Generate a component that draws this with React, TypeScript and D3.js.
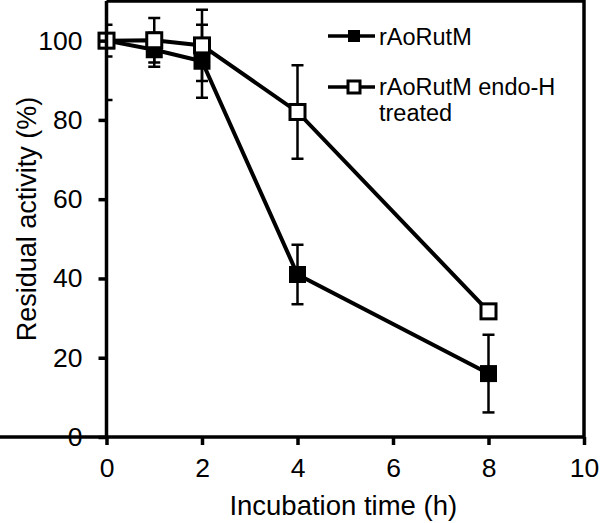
import React, { useEffect, useRef } from "react";
import * as d3 from "d3";

// incubation times (h)
const times = [0, 1, 2, 4, 8];
// rAoRutM (filled squares)
const nativeMean = [100, 97.7, 94.8, 41, 16];
const nativeErr = [4, 4.3, 9.2, 7.5, 9.8];
// rAoRutM endo-H treated (open squares)
const endoMean = [100, 100.1, 98.8, 82, 31.7];
const endoErr = [15, 5.6, 9, 11.8, 1];

const xTicks = [0, 2, 4, 6, 8, 10];
const yTicks = [0, 20, 40, 60, 80, 100];
const legendLabels = ["rAoRutM", "rAoRutM endo-H", "treated"];

export default function App() {
  const ref = useRef<SVGSVGElement>(null);

  useEffect(() => {
    const width = 600, height = 523;
    const margin = { top: 1, right: 16, bottom: 86, left: 106.5 };
    const font = "'Liberation Sans', Arial, sans-serif";

    const svg = d3.select(ref.current);
    svg.selectAll("*").remove();
    svg.attr("width", width).attr("height", height);

    const x = d3.scaleLinear().domain([0, 10]).range([margin.left, width - margin.right]);
    const y = d3.scaleLinear().domain([0, 110]).range([height - margin.bottom, margin.top]);

    svg.append("defs").append("clipPath").attr("id", "plotclip")
      .append("rect")
      .attr("x", x(0)).attr("y", y(110))
      .attr("width", x(10) - x(0)).attr("height", y(0) - y(110));

    const series = [
      { mean: nativeMean, err: nativeErr, fill: "#000", size: 17 },
      { mean: endoMean, err: endoErr, fill: "#fff", size: 15 },
    ];

    const line = d3.line<number>().x((_, i) => x(times[i])).y(d => y(d));

    // connecting lines
    series.forEach(s => {
      svg.append("path")
        .attr("d", line(s.mean))
        .attr("fill", "none")
        .attr("stroke", "#000")
        .attr("stroke-width", 4);
    });

    // error bars
    const eb = svg.append("g").attr("clip-path", "url(#plotclip)");
    series.forEach(s => {
      times.forEach((t, i) => {
        const cx = x(t);
        const lo = y(s.mean[i] - s.err[i]);
        const hi = y(s.mean[i] + s.err[i]);
        eb.append("line").attr("x1", cx).attr("x2", cx).attr("y1", lo).attr("y2", hi)
          .attr("stroke", "#000").attr("stroke-width", 2.5);
        [lo, hi].forEach(yy => {
          eb.append("line").attr("x1", cx - 6).attr("x2", cx + 6).attr("y1", yy).attr("y2", yy)
            .attr("stroke", "#000").attr("stroke-width", 2.5);
        });
      });
    });

    // markers
    series.forEach(s => {
      svg.append("g").selectAll("rect")
        .data(s.mean)
        .enter()
        .append("rect")
        .attr("x", (_, i) => x(times[i]) - s.size / 2)
        .attr("y", d => y(d) - s.size / 2)
        .attr("width", s.size)
        .attr("height", s.size)
        .attr("fill", s.fill)
        .attr("stroke", "#000")
        .attr("stroke-width", s.fill === "#fff" ? 3 : 0);
    });

    // frame (top + right)
    svg.append("path")
      .attr("d", `M${x(0)},${y(110)}H${x(10)}V${y(0)}`)
      .attr("fill", "none").attr("stroke", "#000").attr("stroke-width", 3.5);

    // axes
    const xAxis = svg.append("g")
      .attr("transform", `translate(0,${y(0)})`)
      .call(d3.axisBottom(x).tickValues(xTicks).tickSize(8).tickPadding(13).tickSizeOuter(0));
    const yAxis = svg.append("g")
      .attr("transform", `translate(${x(0)},0)`)
      .call(d3.axisLeft(y).tickValues(yTicks).tickSize(8).tickPadding(16).tickSizeOuter(0));

    [xAxis, yAxis].forEach(a => {
      a.select(".domain").attr("stroke-width", 3.5);
      a.selectAll(".tick line").attr("stroke-width", 3.5);
      a.selectAll("text").attr("font-family", font).attr("font-size", 26.5).attr("fill", "#000");
    });
    yAxis.select(".domain").attr("d", `M0,${y(0) + 1.75}V${y(110)}`);
    xAxis.select(".domain").attr("d", `M0,0H${x(10)}`);

    // axis titles
    svg.append("text")
      .attr("x", (x(0) + x(10)) / 2 - 2)
      .attr("y", 515)
      .attr("text-anchor", "middle")
      .attr("font-family", font)
      .attr("font-size", 27.5)
      .text("Incubation time (h)");

    svg.append("text")
      .attr("transform", `translate(36,${(y(0) + y(110)) / 2}) rotate(-90)`)
      .attr("text-anchor", "middle")
      .attr("font-family", font)
      .attr("font-size", 27)
      .text("Residual activity (%)");

    // legend
    const lg = svg.append("g");
    const rows = [
      { y: 36, fill: "#000", size: 12, sw: 0 },
      { y: 87, fill: "#fff", size: 12, sw: 3 },
    ];
    rows.forEach(r => {
      lg.append("line").attr("x1", 328).attr("x2", 375).attr("y1", r.y).attr("y2", r.y)
        .attr("stroke", "#000").attr("stroke-width", 3.5);
      lg.append("rect").attr("x", 354 - r.size / 2).attr("y", r.y - r.size / 2)
        .attr("width", r.size).attr("height", r.size)
        .attr("fill", r.fill).attr("stroke", "#000").attr("stroke-width", r.sw);
    });
    [44.5, 95, 121].forEach((ty, i) => {
      lg.append("text")
        .attr("x", 379).attr("y", ty)
        .attr("font-family", font).attr("font-size", 23.5)
        .text(legendLabels[i]);
    });
  }, []);

  return (
    <div style={{ position: "absolute", left: 0, top: 0 }}>
      <svg ref={ref}></svg>
    </div>
  );
}
